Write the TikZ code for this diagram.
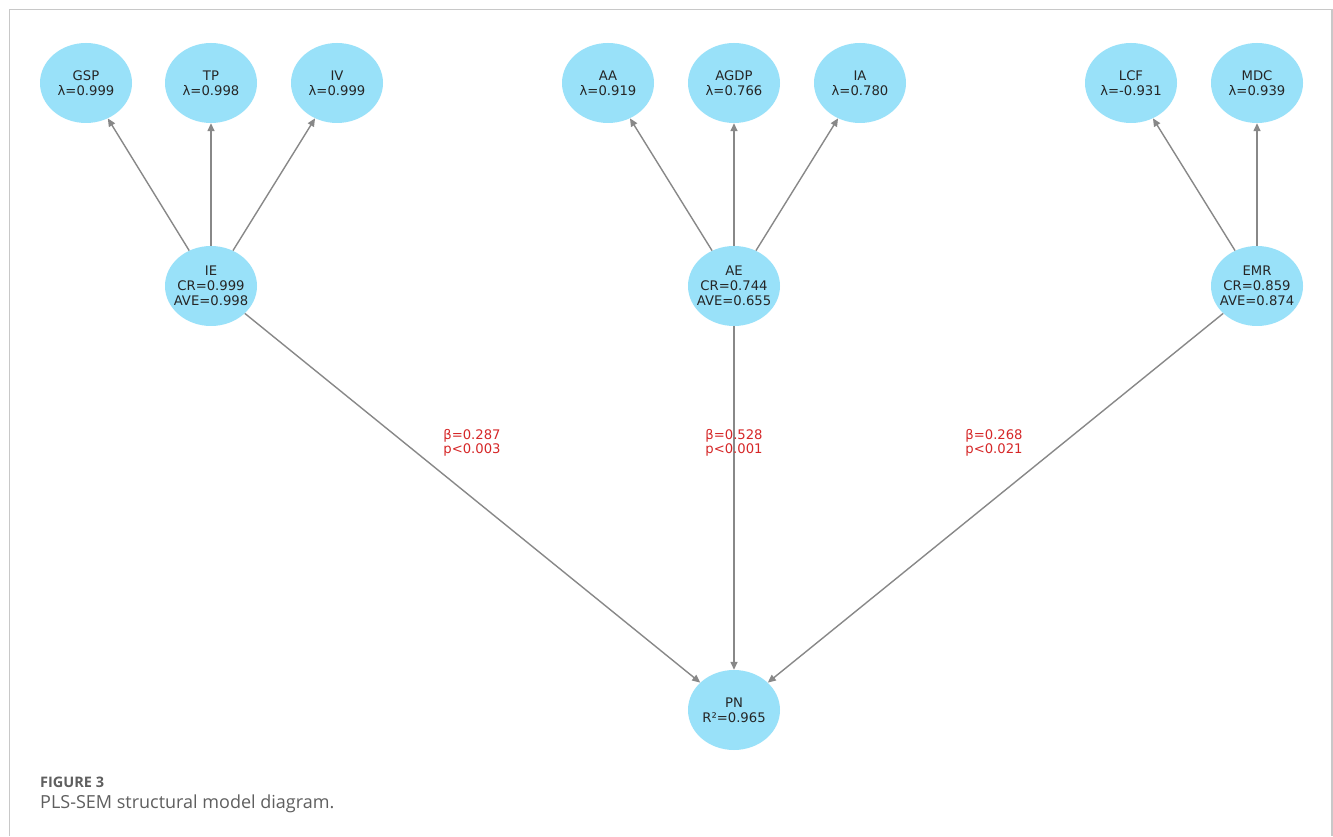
\documentclass[tikz,border=0pt]{standalone}
\usepackage{fontspec}
\setmainfont{DejaVu Sans}
\newfontfamily\capfont{Open Sans}
\usetikzlibrary{shapes.geometric,arrows.meta}
\definecolor{nodefill}{RGB}{153,225,249}
\definecolor{edgegray}{RGB}{136,136,136}
\definecolor{labred}{RGB}{214,39,40}
\definecolor{framegray}{RGB}{200,200,200}
\definecolor{capgray}{RGB}{95,95,95}
\tikzset{
  var/.style={ellipse, fill=nodefill, draw=none, minimum width=92pt, minimum height=80pt, inner sep=0pt},
  vartext/.style={align=center, text=black!85, inner sep=0pt, font=\fontsize{13.2}{15}\selectfont},
  link/.style={draw=edgegray, line width=1.4pt, -{Triangle[length=8pt,width=7pt]}},
  coef/.style={align=center, text=labred, font=\fontsize{13.2}{14.5}\selectfont, inner sep=0pt},
}
\begin{document}
\begin{tikzpicture}[x=1pt,y=1pt]
\useasboundingbox (0,0) rectangle (1333,836);
\fill[white] (0,0) rectangle (1333,836);
\draw[framegray, line width=1.2pt] (9.5,0) -- (9.5,826.5) -- (1332,826.5) -- (1332,0);
% indicators
\node[var, label={[vartext]center:GSP\\λ=0.999}] (GSP) at (86,753) {};
\node[var, label={[vartext]center:TP\\λ=0.998}] (TP) at (211,753) {};
\node[var, label={[vartext]center:IV\\λ=0.999}] (IV) at (337,753) {};
\node[var, label={[vartext]center:AA\\λ=0.919}] (AA) at (608,753) {};
\node[var, label={[vartext]center:AGDP\\λ=0.766}] (AGDP) at (734,753) {};
\node[var, label={[vartext]center:IA\\λ=0.780}] (IA) at (860,753) {};
\node[var, label={[vartext]center:LCF\\λ=-0.931}] (LCF) at (1131,753) {};
\node[var, label={[vartext]center:MDC\\λ=0.939}] (MDC) at (1257,753) {};
% constructs
\node[var, label={[vartext]center:IE\\CR=0.999\\AVE=0.998}] (IE) at (211,550) {};
\node[var, label={[vartext]center:AE\\CR=0.744\\AVE=0.655}] (AE) at (734,550) {};
\node[var, label={[vartext]center:EMR\\CR=0.859\\AVE=0.874}] (EMR) at (1257,550) {};
\node[var, label={[vartext]center:PN\\R²=0.965}] (PN) at (734,126) {};
% measurement arrows
\draw[link] (IE) -- (GSP);
\draw[link] (IE) -- (TP);
\draw[link] (IE) -- (IV);
\draw[link] (AE) -- (AA);
\draw[link] (AE) -- (AGDP);
\draw[link] (AE) -- (IA);
\draw[link] (EMR) -- (LCF);
\draw[link] (EMR) -- (MDC);
% structural arrows
\draw[link] (IE) -- (PN);
\draw[link] (AE) -- (PN);
\draw[link] (EMR) -- (PN);
% coefficients
\node[coef] (c1) at (472,393) {β=0.287\\p<0.003};
\node[coef] (c2) at (734,393) {β=0.528\\p<0.001};
\node[coef] (c3) at (994,393) {β=0.268\\p<0.021};
% caption
\node[anchor=base west, inner sep=0pt, text=capgray, font=\capfont\bfseries\fontsize{14.5}{16}\selectfont] (fig) at (40,49) {FIGURE 3};
\node[anchor=base west, inner sep=0pt, text=capgray, font=\capfont\fontsize{18}{21}\selectfont] (cap) at (40,28) {PLS-SEM structural model diagram.};
\end{tikzpicture}
\end{document}
